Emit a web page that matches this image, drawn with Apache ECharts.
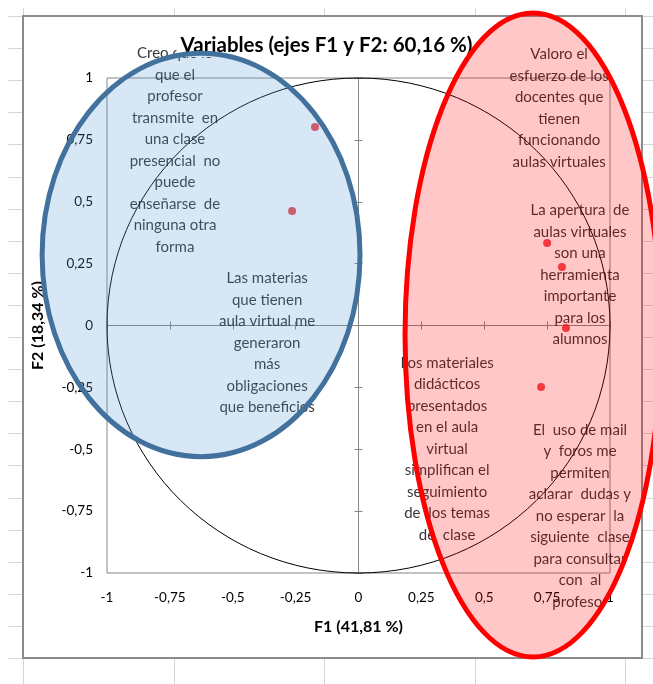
<!DOCTYPE html>
<html lang="es">
<head>
  <meta charset="UTF-8">
  <title>Variables (ejes F1 y F2: 60,16 %)</title>
  <script src="https://cdn.jsdelivr.net/npm/echarts@6/dist/echarts.min.js"></script>
  <style>html, body { margin: 0; padding: 0; background: #fff; }</style>
</head>
<body>
<div id="chart" style="width: 653px; height: 684px;"></div>

<script>
  // variables (text of each item, with the line breaks seen in the chart)
  var variables = [
    'Creo que lo\nque el\nprofesor\ntransmite  en\nuna clase\npresencial  no\npuede\nenseñarse  de\nninguna otra\nforma',
    'Las materias\nque tienen\naula virtual me\ngeneraron\nmás\nobligaciones\nque beneficios',
    'Valoro el\nesfuerzo de los\ndocentes que\ntienen\nfuncionando\naulas virtuales',
    'La apertura  de\naulas virtuales\nson una\nherramienta\nimportante\npara los\nalumnos',
    'El  uso de mail\ny  foros me\npermiten\naclarar  dudas y\nno esperar  la\nsiguiente  clase\npara consultar\ncon  al\nprofesor',
    'Los materiales\ndidácticos\npresentados\nen el aula\nvirtual\nsimplifican el\nseguimiento\nde  los temas\nde  clase'
  ];
  // coordenadas en F1 y F2
  var f1 = [-0.173, -0.264, 0.750, 0.809, 0.825, 0.726];
  var f2 = [0.802, 0.463, 0.333, 0.236, -0.010, -0.248];

  var tickValues = [-1, -0.75, -0.5, -0.25, 0, 0.25, 0.5, 0.75, 1];
  var tickLabels = ['-1', '-0,75', '-0,5', '-0,25', '0', '0,25', '0,5', '0,75', '1'];

  // where each label was dragged to (pixels from its point)
  var labelOffsets = [[-140, 23], [-25, 132], [12, -135], [18, 8], [14, 188], [-94, 62]];

  // ellipses drawn over the chart, in axis units
  var blueShape = { cx: -0.626, cy: 0.285, rx: 0.632, ry: 0.815 };
  var redShape = { cx: 0.694, cy: -0.038, rx: 0.509, ry: 1.301 };

  var FONT = 'Lato';
  var myChart = echarts.init(document.getElementById('chart'));

  function fmt(v) {
    for (var i = 0; i < tickValues.length; i++) {
      if (Math.abs(tickValues[i] - v) < 1e-9) return tickLabels[i];
    }
    return '';
  }

  var points = f1.map(function (x, i) {
    return {
      name: variables[i],
      value: [x, f2[i]],
      label: { offset: labelOffsets[i] }
    };
  });

  var gray = '#868686';
  var base = { type: 'value', min: -1, max: 1, interval: 0.25, splitLine: { show: false } };

  function zeroAxis(extra) {
    return Object.assign({}, base, {
      axisLabel: { show: false },
      axisLine: { show: extra.line, onZero: true, lineStyle: { color: gray, width: 1 } },
      axisTick: { show: true, inside: extra.inside, length: 4, lineStyle: { color: gray } }
    });
  }

  var option = {
    animation: false,
    title: {
      text: 'Variables (ejes F1 y F2: 60,16 %)',
      left: 'center',
      top: 34,
      z: 50,
      padding: [1, 4],
      backgroundColor: '#fff',
      textStyle: { fontFamily: FONT, fontSize: 20.5, fontWeight: 'bold', color: '#000' }
    },
    grid: { left: 107, right: 43, top: 78, bottom: 111, show: true, borderColor: gray, borderWidth: 1 },
    xAxis: [
      Object.assign({}, base, {
        position: 'bottom',
        name: 'F1 (41,81 %)',
        nameLocation: 'middle',
        nameGap: 46,
        nameTextStyle: { fontFamily: FONT, fontSize: 16, fontWeight: 'bold', color: '#000' },
        axisLine: { show: false, onZero: false },
        axisTick: { show: false },
        axisLabel: { margin: 18, formatter: fmt, fontFamily: FONT, fontSize: 13.5, color: '#000' }
      }),
      Object.assign(zeroAxis({ line: true, inside: false }), { position: 'bottom' }),
      Object.assign(zeroAxis({ line: false, inside: true }), { position: 'bottom' })
    ],
    yAxis: [
      Object.assign({}, base, {
        position: 'left',
        name: 'F2 (18,34 %)',
        nameLocation: 'middle',
        nameGap: 61,
        nameTextStyle: { fontFamily: FONT, fontSize: 16, fontWeight: 'bold', color: '#000' },
        axisLine: { show: false, onZero: false },
        axisTick: { show: false },
        axisLabel: { margin: 14, formatter: fmt, fontFamily: FONT, fontSize: 13.5, color: '#000' }
      }),
      Object.assign(zeroAxis({ line: true, inside: false }), { position: 'left' }),
      Object.assign(zeroAxis({ line: false, inside: true }), { position: 'left' })
    ],
    series: [{
      type: 'scatter',
      xAxisIndex: 0,
      yAxisIndex: 0,
      data: points,
      symbol: 'circle',
      symbolSize: 8,
      itemStyle: { color: '#ee1c24' },
      label: {
        show: true,
        position: 'inside',
        formatter: '{b}',
        fontFamily: FONT,
        fontSize: 15,
        lineHeight: 21.5,
        color: '#000'
      },
      emphasis: { disabled: true }
    }]
  };

  myChart.setOption(option);

  // decorations: worksheet grid behind the chart, chart frame, unit circle, ellipses
  function toPx(x, y) { return myChart.convertToPixel({ gridIndex: 0 }, [x, y]); }
  function ellipseOf(s) {
    var c = toPx(s.cx, s.cy);
    var ex = toPx(s.cx + s.rx, s.cy);
    var ey = toPx(s.cx, s.cy + s.ry);
    return { cx: c[0], cy: c[1], rx: Math.abs(ex[0] - c[0]), ry: Math.abs(c[1] - ey[1]) };
  }

  var deco = [];
  for (var k = 0; k <= 21; k++) {
    var yy = Math.round(16 + k * 32.1) + 0.5;
    deco.push({ type: 'line', silent: true, z: -20, shape: { x1: 8, y1: yy, x2: 653, y2: yy }, style: { stroke: '#d6d6d6', lineWidth: 1 } });
  }
  for (var c = 0; c <= 4; c++) {
    var xx = Math.round(23 + c * 150.5) + 0.5;
    deco.push({ type: 'line', silent: true, z: -20, shape: { x1: xx, y1: 8, x2: xx, y2: 684 }, style: { stroke: '#d6d6d6', lineWidth: 1 } });
  }
  deco.push({ type: 'rect', silent: true, z: -10, shape: { x: 23, y: 16, width: 619, height: 642 }, style: { fill: '#fff', stroke: '#8c8c8c', lineWidth: 2 } });

  var unit = ellipseOf({ cx: 0, cy: 0, rx: 1, ry: 1 });
  deco.push({ type: 'ellipse', silent: true, z: 1, shape: unit, style: { fill: 'none', stroke: '#000', lineWidth: 1 } });
  deco.push({ type: 'ellipse', silent: true, z: 100, shape: ellipseOf(blueShape), style: { fill: 'rgba(91,155,213,0.24)', stroke: '#41719c', lineWidth: 5 } });
  deco.push({ type: 'ellipse', silent: true, z: 100, shape: ellipseOf(redShape), style: { fill: 'rgba(255,0,0,0.22)', stroke: '#ff0000', lineWidth: 5 } });

  myChart.setOption({ graphic: { elements: deco } });
</script>
</body>
</html>
